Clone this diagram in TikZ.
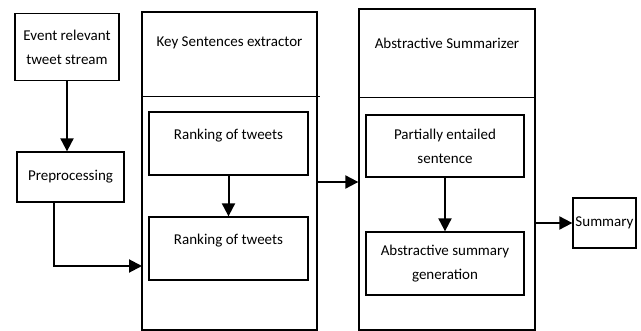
\documentclass[tikz,border=0pt]{standalone}
\usepackage{fontspec}
\setmainfont{Carlito}
\usetikzlibrary{positioning, arrows.meta}

\begin{document}
\begin{tikzpicture}[x=1pt, y=-1pt,
  box/.style={draw, line width=1.3pt, align=center, inner sep=2pt,
    font=\fontsize{15}{24}\selectfont},
  stage/.style={draw, line width=1.3pt, inner sep=0pt},
  title/.style={font=\fontsize{15}{24}\selectfont},
  flow/.style={line width=2pt, -{Triangle[length=13pt, width=13pt]}}]
  \useasboundingbox (0,0) rectangle (641,331);

  % input side
  \node[box, minimum width=104pt, minimum height=67pt] (event) at (67,47)
    {Event relevant\\tweet stream};
  \node[box, minimum width=107pt, minimum height=50pt] (prep) at (70.5,177)
    {Preprocessing};

  % key sentences extractor
  \node[stage, minimum width=175pt, minimum height=318pt] (key) at (229.5,171) {};
  \node[title] (keytitle) at (229.5,43) {Key Sentences extractor};
  \draw[line width=0.7pt] (key.west |- 0,96) -- ([xshift=2pt]key.east |- 0,96);
  \node[box, minimum width=159pt, minimum height=63pt] (rank1) at (228.5,143.5)
    {Ranking of tweets\\[-6pt]};
  \node[box, minimum width=159pt, minimum height=63pt] (rank2) at (228.5,248.5)
    {Ranking of tweets\\[-6pt]};

  % abstractive summarizer
  \node[stage, minimum width=176pt, minimum height=321pt] (abs) at (447,169.5) {};
  \node[title] (abstitle) at (447,43) {Abstractive Summarizer};
  \draw[line width=0.7pt] (abs.west |- 0,97) -- (abs.east |- 0,97);
  \node[box, minimum width=158pt, minimum height=62pt] (part) at (445,146)
    {Partially entailed\\sentence};
  \node[box, minimum width=158pt, minimum height=63pt] (gen) at (445,263.5)
    {Abstractive summary\\generation};

  \node[box, minimum width=63pt, minimum height=50pt, inner sep=0pt] (summ) at (604.5,223)
    {Summary};

  \coordinate (keyin) at (142,266);

  % connectors
  \draw[flow] (event.south) -- (event.south |- prep.north);
  \draw[flow] ([xshift=-17pt]prep.south) |- (keyin);
  \draw[flow] (rank1.south) -- (rank2.north);
  \draw[flow] ([yshift=-11pt]key.east) -- ([yshift=-11pt]key.east -| abs.west);
  \draw[flow] (part.south) -- (part.south |- gen.north);
  \draw[flow] (abs.east |- summ.west) -- (summ.west);
\end{tikzpicture}
\end{document}
